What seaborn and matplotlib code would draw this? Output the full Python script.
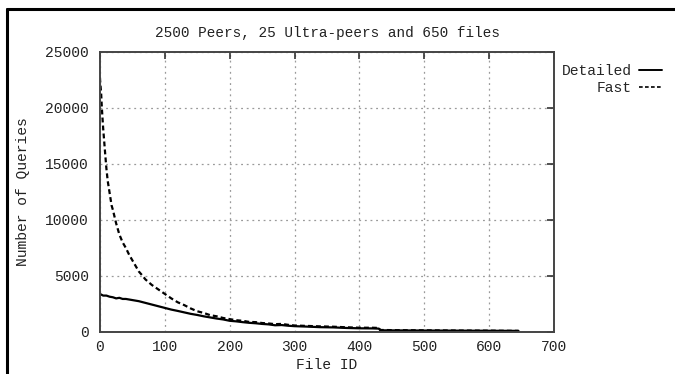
import matplotlib
matplotlib.use("Agg")
import matplotlib.pyplot as plt
from matplotlib.lines import Line2D
import seaborn as sns
import pandas as pd

sns.set_theme(style="white")
plt.rcParams["font.family"] = ["Liberation Mono", "DejaVu Sans Mono"]

# Queries per file, ordered by file ID
detailed_x = [0, 5, 10, 15, 20, 25, 30, 35, 40, 50, 60, 70, 80, 90, 100, 110, 120, 130,
              140, 150, 160, 170, 180, 190, 200, 210, 220, 230, 240, 250, 260, 270, 280,
              290, 300, 320, 340, 360, 380, 400, 420, 430, 432, 460, 500, 550, 600, 645]
detailed_y = [3400, 3250, 3250, 3150, 3100, 3000, 3050, 2950, 2950, 2850, 2750, 2600, 2450,
              2300, 2150, 2000, 1880, 1750, 1620, 1520, 1400, 1300, 1200, 1120, 1000, 950,
              880, 820, 780, 720, 680, 600, 620, 560, 520, 480, 430, 410, 360, 330, 320,
              300, 150, 140, 130, 120, 110, 100]

fast_x = [0, 2, 3, 5, 8, 10, 12, 15, 18, 20, 25, 30, 35, 40, 45, 50, 55, 60, 66, 70, 80,
          90, 100, 110, 120, 130, 140, 150, 160, 170, 180, 190, 200, 210, 220, 230, 240,
          250, 260, 270, 280, 290, 300, 320, 340, 360, 380, 400, 420, 430, 432, 460, 500,
          550, 600, 645]
fast_y = [22700, 21200, 20000, 18200, 16000, 14600, 13500, 12400, 11300, 10900, 9700, 8700,
          8000, 7500, 6900, 6400, 5900, 5400, 5000, 4700, 4200, 3800, 3400, 3000, 2650,
          2400, 2100, 1850, 1700, 1500, 1400, 1250, 1150, 1050, 1000, 900, 880, 800, 760,
          700, 720, 640, 580, 540, 500, 470, 420, 380, 380, 360, 180, 160, 150, 130, 120,
          100]

title = "2500 Peers, 25 Ultra-peers and 650 files"
x_label = "File ID"
y_label = "Number of Queries"
x_ticks = [0, 100, 200, 300, 400, 500, 600, 700]
y_ticks = [0, 5000, 10000, 15000, 20000, 25000]

df_detailed = pd.DataFrame({"file": detailed_x, "queries": detailed_y})
df_fast = pd.DataFrame({"file": fast_x, "queries": fast_y})

fig = plt.figure(figsize=(6.75, 3.74), dpi=100)
ax = fig.add_axes([0.148, 0.1123, 0.673, 0.749])

sns.lineplot(data=df_detailed, x="file", y="queries", ax=ax, color="black",
             linewidth=1.6, estimator=None, sort=False)
sns.lineplot(data=df_fast, x="file", y="queries", ax=ax, color="black",
             linewidth=1.6, estimator=None, sort=False, linestyle=(0, (2.2, 1.4)))

ax.set_xlim(0, 700)
ax.set_ylim(0, 25000)
ax.set_xticks(x_ticks)
ax.set_yticks(y_ticks)
ax.tick_params(direction="in", length=5, width=1.2, color="#333333",
               top=True, right=True, labelsize=10.5, pad=8, labelcolor="#222222")
ax.tick_params(axis="x", pad=6)
ax.grid(True, color="#9a9a9a", linestyle=(0, (1.5, 3)), linewidth=0.9)
for s in ax.spines.values():
    s.set_color("#444444")
    s.set_linewidth(1.4)
    s.set_visible(True)

ax.set_xlabel(x_label, fontsize=10.5, color="#222222", labelpad=3)
ax.set_ylabel(y_label, fontsize=10.5, color="#222222", labelpad=11)
ax.set_title(title, fontsize=10.4, color="#222222", pad=11)

handles = [Line2D([], [], color="black", linewidth=1.4),
           Line2D([], [], color="black", linewidth=1.2, linestyle=(0, (2.2, 1.4)))]
fig.legend(handles, ["Detailed", "Fast"], loc="upper right",
           bbox_to_anchor=(0.99, 0.845), frameon=False, markerfirst=False,
           fontsize=10.5, handlelength=1.6, handletextpad=0.5, labelspacing=0.2,
           borderaxespad=0)

# Frame lines along the top and left edges
fig.add_artist(Line2D([0.010, 1.0], [0.975, 0.975], color="black", linewidth=2.2,
                      transform=fig.transFigure))
fig.add_artist(Line2D([0.011, 0.011], [0.0, 0.975], color="black", linewidth=2.2,
                      transform=fig.transFigure))

fig.savefig("out.png", dpi=100, facecolor="white")
